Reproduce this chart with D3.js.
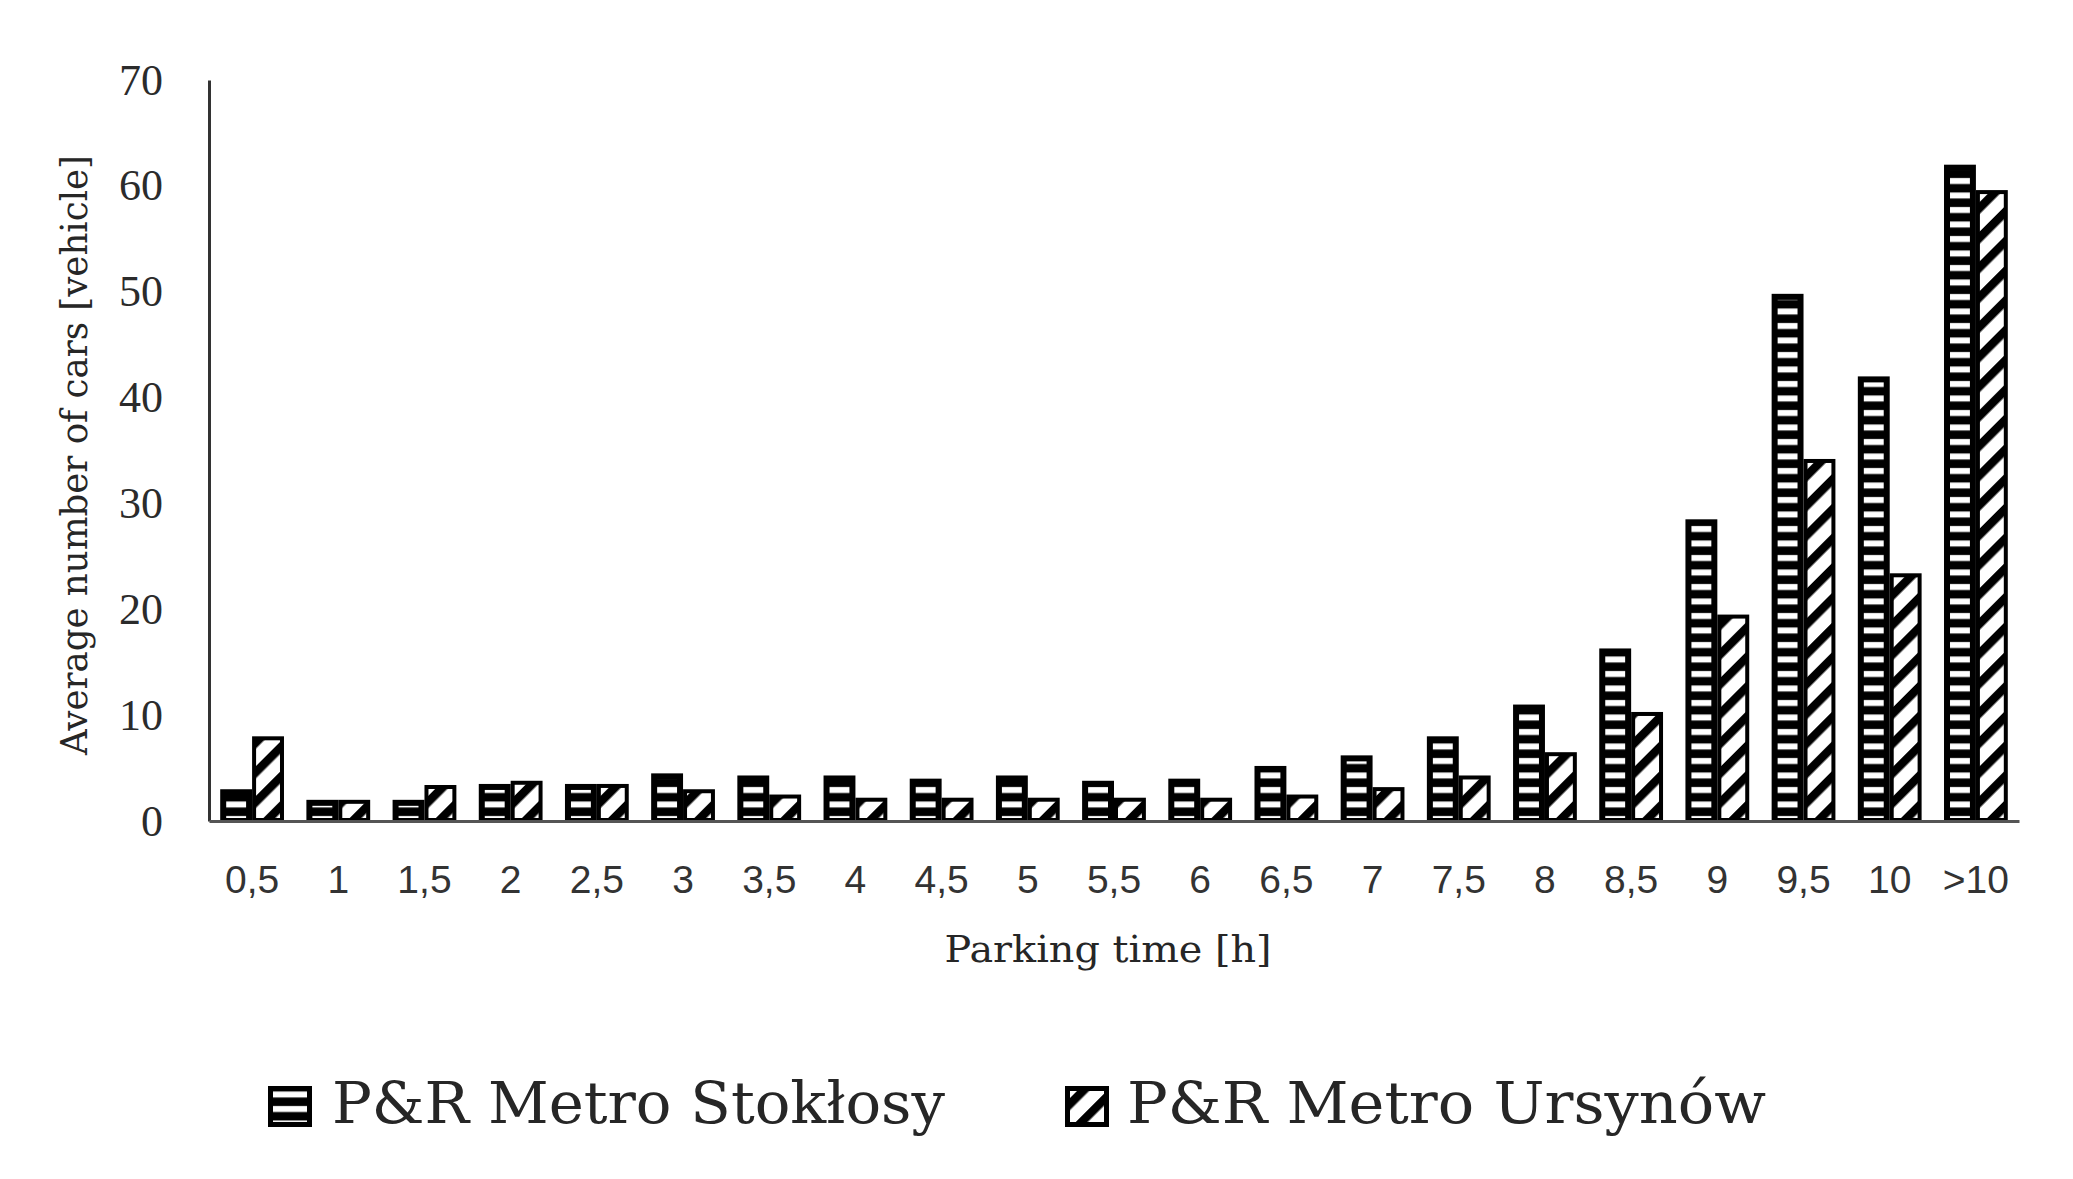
<!DOCTYPE html>
<html>
<head>
<meta charset="utf-8">
<script src="https://cdn.jsdelivr.net/npm/d3@7/dist/d3.min.js"></script>
<style>
    body { margin: 0; background: #fff; }
    text { fill: #262626; }
</style>
</head>
<body>
<div class="bar-chart-container"></div>
<script>
// Data
const categories = ['0,5', '1', '1,5', '2', '2,5', '3', '3,5', '4', '4,5', '5', '5,5',
    '6', '6,5', '7', '7,5', '8', '8,5', '9', '9,5', '10', '>10'];
const stoklosy = [3, 2, 2, 3.5, 3.5, 4.5, 4.3, 4.3, 4, 4.3, 3.8,
    4, 5.2, 6.2, 8, 11, 16.3, 28.5, 49.8, 42, 62];
const ursynow = [8, 2, 3.4, 3.8, 3.5, 3, 2.5, 2.2, 2.2, 2.2, 2.2,
    2.2, 2.5, 3.2, 4.3, 6.5, 10.3, 19.5, 34.2, 23.4, 59.6];
const seriesNames = ['P&R Metro Stokłosy', 'P&R Metro Ursynów'];
const yTicks = [0, 10, 20, 30, 40, 50, 60, 70];

function ready(){
    const width = 2073;
    const height = 1179;
    const plot = {left: 209, right: 2019, top: 80, bottom: 821};

    const svg = d3.select('.bar-chart-container')
        .append('svg')
        .attr('width', width)
        .attr('height', height);

    // Patterns
    const defs = svg.append('defs');

    const hPat = defs.append('pattern')
        .attr('id', 'pat-h')
        .attr('patternUnits', 'userSpaceOnUse')
        .attr('width', 20)
        .attr('height', 14.5);
    hPat.append('rect').attr('width', 20).attr('height', 14.5).attr('fill', '#000');
    hPat.append('rect').attr('y', 4).attr('width', 20).attr('height', 6).attr('fill', '#fff');

    const dPat = defs.append('pattern')
        .attr('id', 'pat-d')
        .attr('patternUnits', 'userSpaceOnUse')
        .attr('width', 21)
        .attr('height', 21)
        .attr('patternTransform', 'rotate(45)');
    dPat.append('rect').attr('width', 21).attr('height', 21).attr('fill', '#fff');
    dPat.append('rect').attr('width', 8.5).attr('height', 21).attr('fill', '#000');

    // Scales
    const x0 = d3.scaleBand()
        .domain(categories)
        .range([plot.left, plot.right])
        .paddingInner(0.26)
        .paddingOuter(0.13);

    const x1 = d3.scaleBand()
        .domain([0, 1])
        .range([0, x0.bandwidth()]);

    const yScale = d3.scaleLinear()
        .domain([0, 70])
        .range([plot.bottom, plot.top]);

    const rows = categories.map((c, i) => ({cat: c, values: [stoklosy[i], ursynow[i]]}));
    const insets = [6, 4];
    const fills = ['url(#pat-h)', 'url(#pat-d)'];

    // Draw bars
    const groups = svg.append('g')
        .attr('class', 'bars')
        .selectAll('g')
        .data(rows)
        .enter()
        .append('g')
        .attr('transform', d => `translate(${x0(d.cat)}, 0)`);

    const bars = groups.selectAll('g')
        .data(d => d.values.map((v, s) => ({v, s})))
        .enter()
        .append('g');

    bars.append('rect')
        .attr('x', d => x1(d.s))
        .attr('y', d => yScale(d.v))
        .attr('width', x1.bandwidth())
        .attr('height', d => yScale(0) - yScale(d.v))
        .attr('fill', '#000');

    bars.append('rect')
        .attr('x', d => x1(d.s) + insets[d.s])
        .attr('y', d => yScale(d.v) + insets[d.s])
        .attr('width', d => Math.max(0, x1.bandwidth() - 2 * insets[d.s]))
        .attr('height', d => Math.max(0, yScale(0) - yScale(d.v) - insets[d.s] - 3))
        .attr('fill', d => fills[d.s]);

    // Axes
    const yAxis = d3.axisLeft(yScale)
        .tickValues(yTicks)
        .tickSize(0)
        .tickPadding(46);

    const yAxisDraw = svg.append('g')
        .attr('class', 'y axis')
        .attr('transform', `translate(${plot.left}, 0)`)
        .call(yAxis);

    yAxisDraw.select('.domain')
        .attr('stroke', '#333')
        .attr('stroke-width', 3);

    yAxisDraw.selectAll('text')
        .style('font-family', '"Liberation Serif", serif')
        .style('font-size', '44px')
        .style('fill', '#2b2b2b');

    const xAxis = d3.axisBottom(x0)
        .tickSize(0)
        .tickPadding(44);

    const xAxisDraw = svg.append('g')
        .attr('class', 'x axis')
        .attr('transform', `translate(0, ${plot.bottom})`)
        .call(xAxis);

    xAxisDraw.select('.domain')
        .attr('stroke', '#555')
        .attr('stroke-width', 3);

    xAxisDraw.selectAll('text')
        .style('font-family', '"Liberation Sans", sans-serif')
        .style('font-size', '39px')
        .style('fill', '#333');

    // Axis titles
    svg.append('text')
        .attr('x', 1108)
        .attr('y', 962)
        .attr('text-anchor', 'middle')
        .attr('textLength', 327)
        .attr('lengthAdjust', 'spacingAndGlyphs')
        .style('font-family', '"DejaVu Serif", serif')
        .style('font-size', '38px')
        .text('Parking time [h]');

    svg.append('text')
        .attr('transform', 'translate(87, 455) rotate(-90)')
        .attr('text-anchor', 'middle')
        .attr('textLength', 600)
        .attr('lengthAdjust', 'spacingAndGlyphs')
        .style('font-family', '"DejaVu Serif", serif')
        .style('font-size', '38px')
        .text('Average number of cars [vehicle]');

    // Legend
    const legendItems = [
        {x: 268, textX: 332, len: 613},
        {x: 1065, textX: 1127, len: 639}
    ];

    const legend = svg.append('g')
        .attr('class', 'legend')
        .selectAll('g')
        .data(seriesNames)
        .enter()
        .append('g');

    legend.append('rect')
        .attr('x', (d, i) => legendItems[i].x)
        .attr('y', 1086)
        .attr('width', 44)
        .attr('height', 41)
        .attr('fill', '#000');

    legend.append('rect')
        .attr('x', (d, i) => legendItems[i].x + 5)
        .attr('y', 1091)
        .attr('width', 34)
        .attr('height', 31)
        .attr('fill', (d, i) => fills[i]);

    legend.append('text')
        .attr('x', (d, i) => legendItems[i].textX)
        .attr('y', 1123)
        .attr('textLength', (d, i) => legendItems[i].len)
        .attr('lengthAdjust', 'spacingAndGlyphs')
        .style('font-family', '"DejaVu Serif", serif')
        .style('font-size', '58px')
        .text(d => d);
}

ready();
</script>
</body>
</html>
